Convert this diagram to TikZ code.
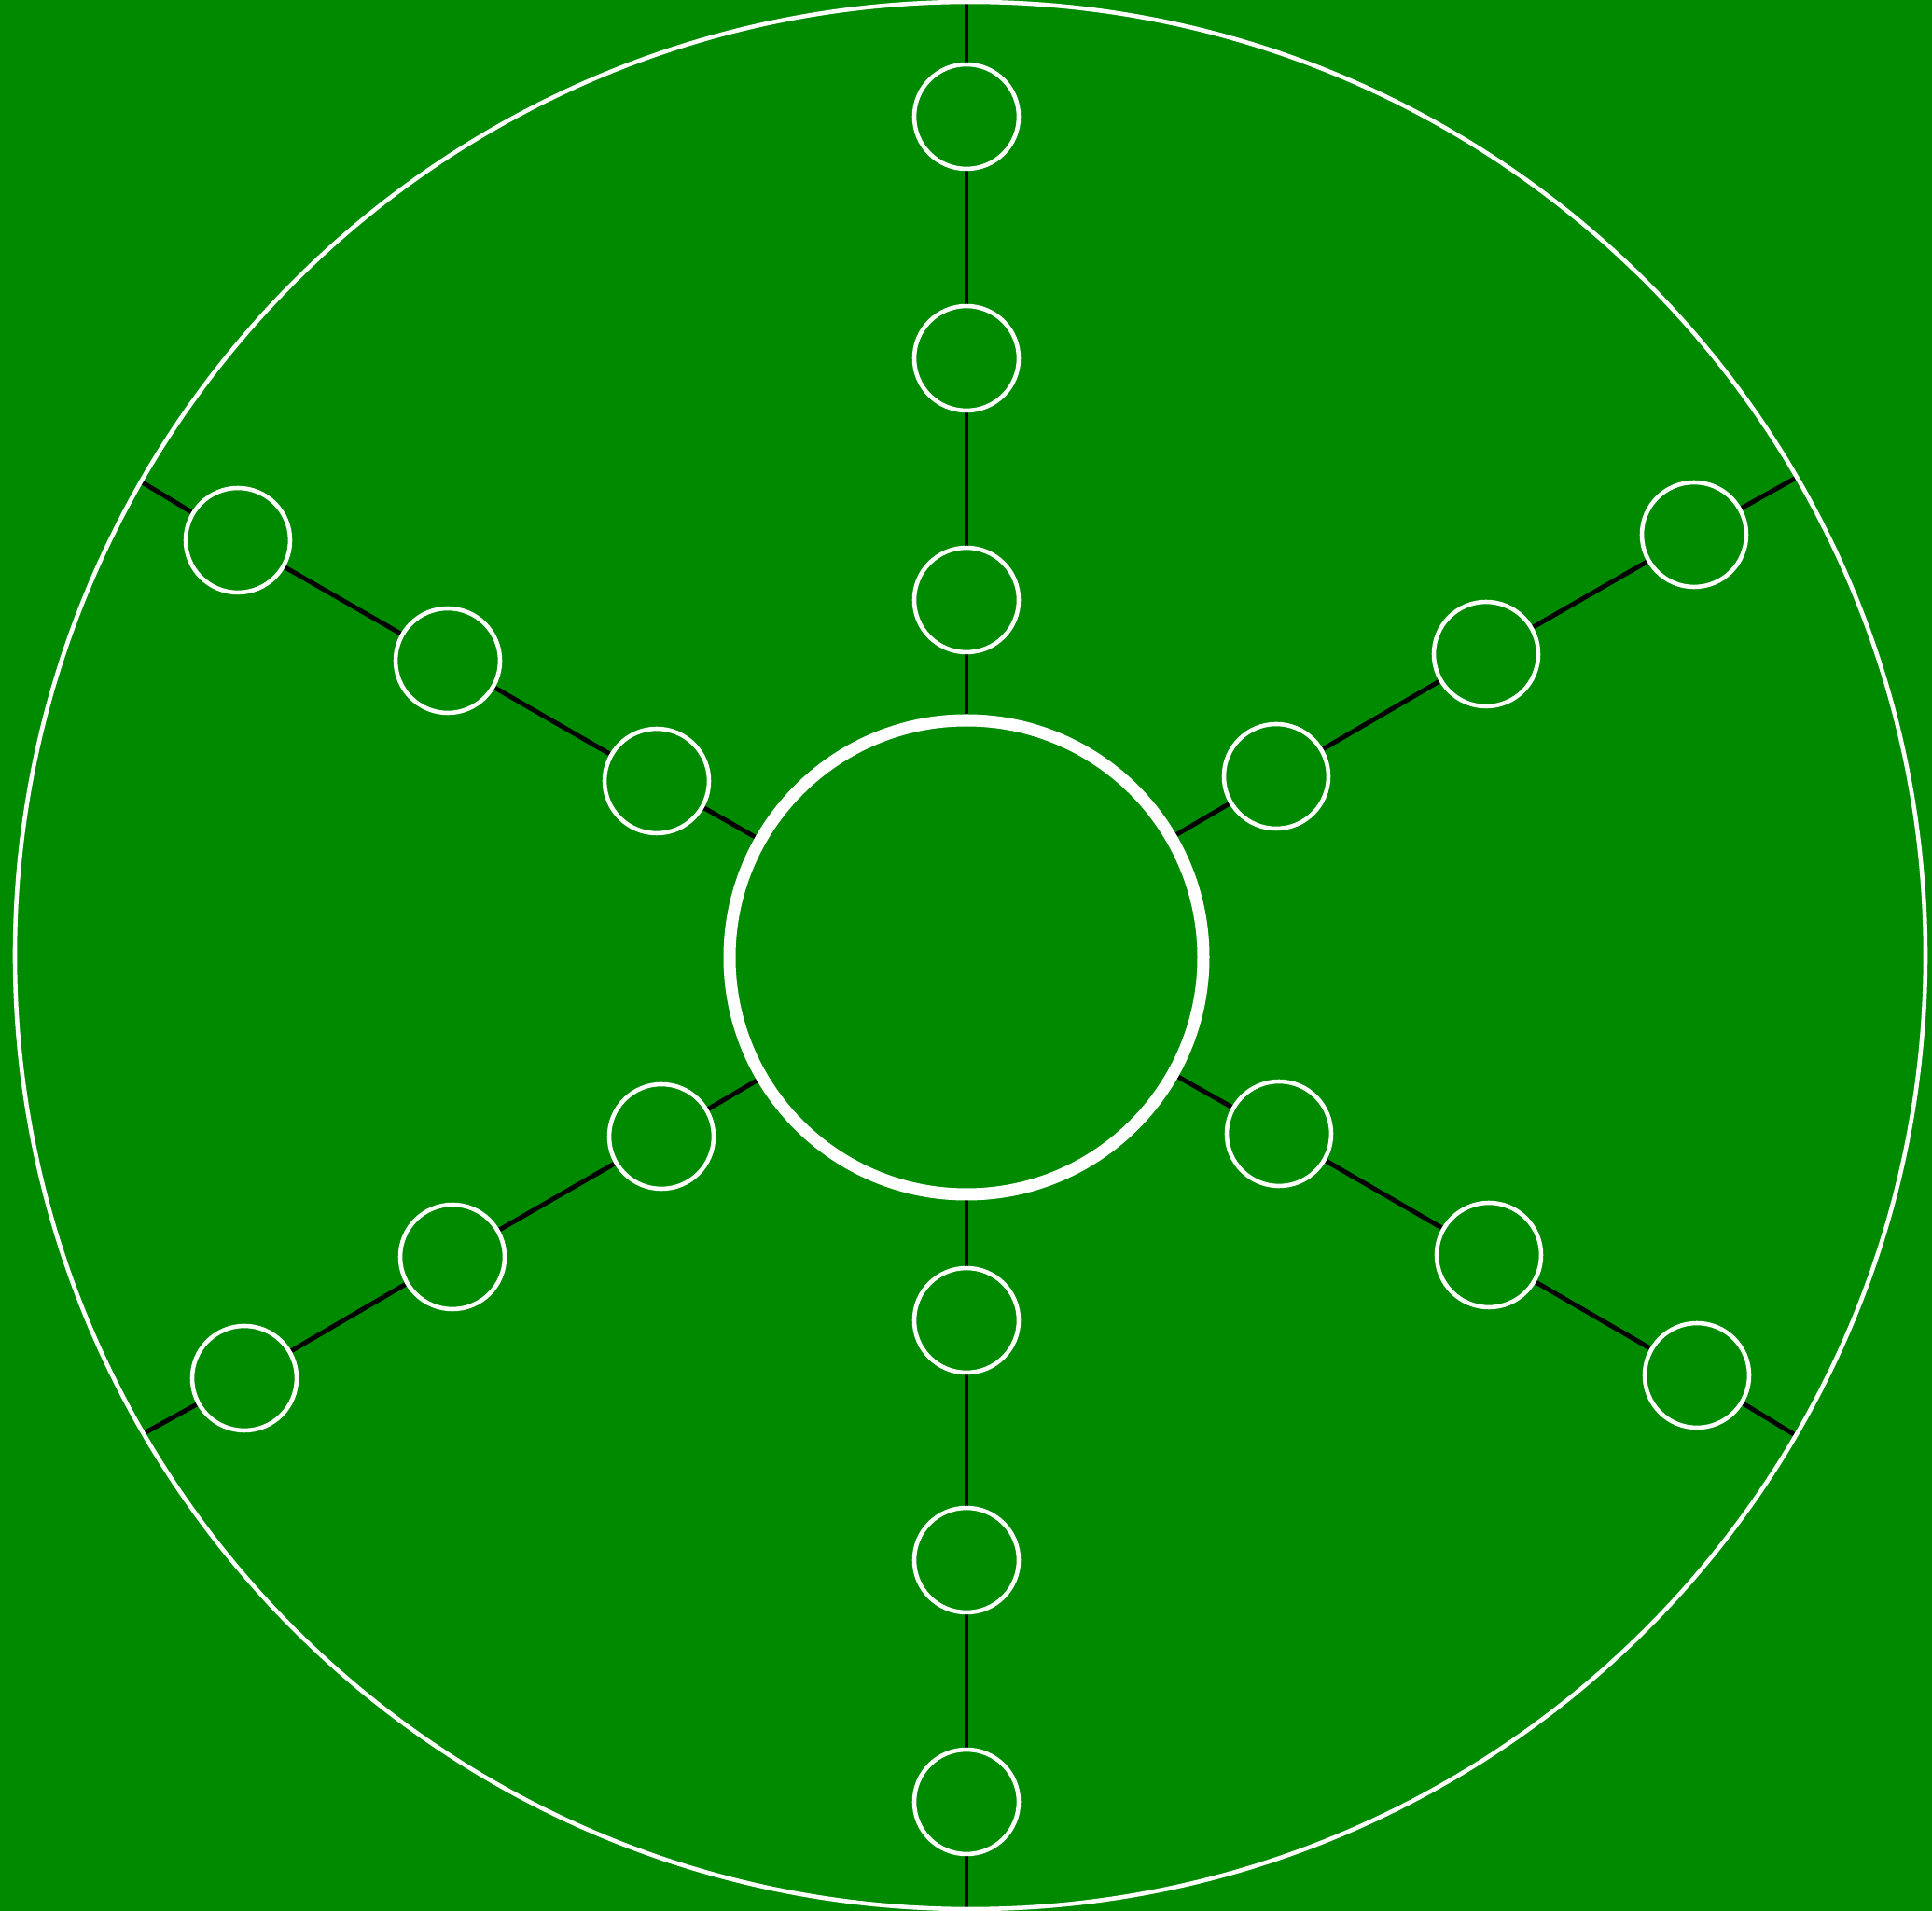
\documentclass[tikz,border=0pt]{standalone}
\usetikzlibrary{shapes.geometric}
\definecolor{fieldgreen}{RGB}{0,138,0}
\pgfdeclarelayer{bg}
\pgfsetlayers{bg,main}

\begin{document}
\begin{tikzpicture}[
  hub/.style={circle, draw=white, line width=3.7pt, minimum size=5.08cm,
    inner sep=0pt},
  spot/.style={circle, draw=white, line width=1.3pt, minimum size=1.12cm,
    inner sep=0pt},
  rimline/.style={ellipse, draw=white, line width=1.3pt,
    minimum width=20.48cm, minimum height=20.44cm, inner sep=0pt},
  spoke/.style={draw=black, line width=1.4pt},
]
\useasboundingbox (0,0) rectangle (20.71,20.48);

%% ── Hub and outer rim ────────────────────────────────────────────────────────
\node[hub] (hub) at (10.36, 10.22) {};
\node[rimline] (rim) at (10.40, 10.24) {};

%% ── Spots, inner to outer, on each arm ───────────────────────────────────────
\node[spot] (s90-1)  at (10.36, 14.05) {};
\node[spot] (s90-2)  at (10.36, 16.64) {};
\node[spot] (s90-3)  at (10.36, 19.23) {};

\node[spot] (s30-1)  at (13.68, 12.16) {};
\node[spot] (s30-2)  at (15.93, 13.47) {};
\node[spot] (s30-3)  at (18.16, 14.75) {};

\node[spot] (s150-1) at (7.04, 12.11) {};
\node[spot] (s150-2) at (4.80, 13.40) {};
\node[spot] (s150-3) at (2.55, 14.69) {};

\node[spot] (s210-1) at (7.09, 8.30) {};
\node[spot] (s210-2) at (4.85, 7.01) {};
\node[spot] (s210-3) at (2.62, 5.71) {};

\node[spot] (s270-1) at (10.36, 6.33) {};
\node[spot] (s270-2) at (10.36, 3.76) {};
\node[spot] (s270-3) at (10.36, 1.17) {};

\node[spot] (s330-1) at (13.71, 8.33) {};
\node[spot] (s330-2) at (15.96, 7.03) {};
\node[spot] (s330-3) at (18.19, 5.74) {};

%% ── Field and spokes, behind everything ──────────────────────────────────────
\begin{pgfonlayer}{bg}
  \fill[fieldgreen] (0,0) rectangle (20.71,20.48);
  \begin{scope}
    \clip (rim.center) ellipse [x radius=10.24cm, y radius=10.22cm];
    \foreach \a in {30,90,...,330} {
      \coordinate (end\a) at ([shift={(\a:10.6)}]hub.center);
      \draw[spoke] (hub) -- (s\a-1) -- (s\a-2) -- (s\a-3) -- (end\a);
    }
  \end{scope}
\end{pgfonlayer}

\end{tikzpicture}
\end{document}
